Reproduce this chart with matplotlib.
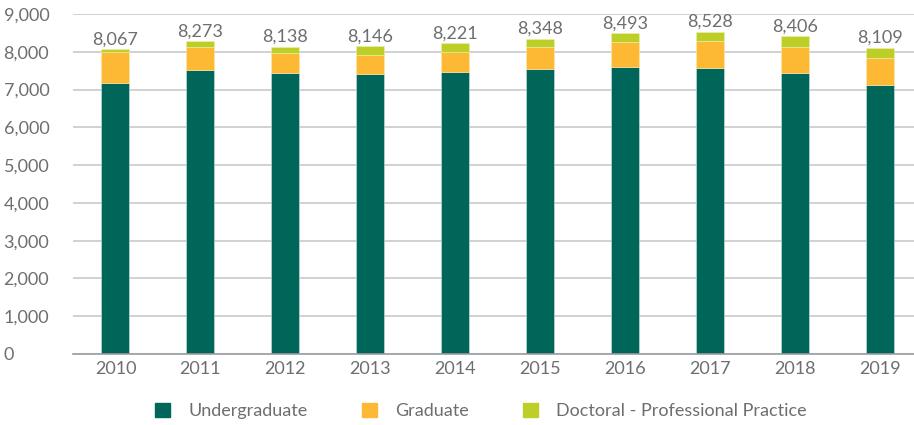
import numpy as np
import matplotlib.pyplot as plt
from matplotlib.patches import Patch

plt.rcParams['font.family'] = ['Lato', 'DejaVu Sans']

#enrollment by year
years = ["2010", "2011", "2012", "2013", "2014", "2015", "2016", "2017", "2018", "2019"]
undergrad = np.array([7170, 7508, 7440, 7400, 7465, 7535, 7597, 7560, 7440, 7132])
graduate = np.array([820, 608, 518, 521, 527, 581, 650, 722, 676, 694])
totals = np.array([8067, 8273, 8138, 8146, 8221, 8348, 8493, 8528, 8406, 8109])
doctoral = totals - undergrad - graduate

c_ug = "#00665a"
c_gr = "#fdb933"
c_dr = "#bdcf26"
txt = "#6d6e71"
fs = 13

fig = plt.figure(figsize=(9.14, 4.25), dpi=100)
ax = fig.add_axes([73/914, (425-354)/425, 1 - 73/914, 340/425])

x = np.arange(len(years))
w = 0.33
ax.bar(x, undergrad, width=w, color=c_ug, edgecolor="#cfe3de", linewidth=0.4, zorder=3)
ax.bar(x, graduate, width=w, bottom=undergrad, color=c_gr, edgecolor="#fde9b0", linewidth=0.4, zorder=3)
ax.bar(x, doctoral, width=w, bottom=undergrad + graduate, color=c_dr, edgecolor="#eaf2b0", linewidth=0.4, zorder=3)

#total labels on top
for i in range(len(years)):
    ax.text(x[i], totals[i] + 50, f"{totals[i]:,}", ha="center", va="bottom",
            fontsize=fs, color=txt)

ax.set_xlim(-0.5, 9.4)
ax.set_ylim(0, 9000)
ax.set_yticks(np.arange(0, 9001, 1000))
ax.set_yticklabels([f"{v:,}" for v in range(0, 9001, 1000)], ha="left")
ax.tick_params(axis="y", length=0, pad=50, labelsize=fs, labelcolor=txt)
ax.set_xticks(x)
ax.set_xticklabels(years)
ax.tick_params(axis="x", length=0, pad=5, labelsize=fs, labelcolor=txt)

ax.grid(axis="y", color="#c8c9cb", linewidth=1.2, zorder=0)
for s in ["top", "right", "left"]:
    ax.spines[s].set_visible(False)
ax.spines["bottom"].set_color("#9a9ca0")
ax.spines["bottom"].set_linewidth(1.2)
ax.spines["bottom"].set_zorder(4)

handles = [Patch(color=c_ug, label="Undergraduate"),
           Patch(color=c_gr, label="Graduate"),
           Patch(color=c_dr, label="Doctoral - Professional Practice")]
fig.legend(handles=handles, loc="center", bbox_to_anchor=(0.526, 1 - 411/425), ncol=3,
           frameon=False, fontsize=fs, labelcolor=txt, handlelength=0.85, handleheight=0.85,
           handletextpad=1.0, columnspacing=3.0)

fig.savefig("out.png", dpi=100)
